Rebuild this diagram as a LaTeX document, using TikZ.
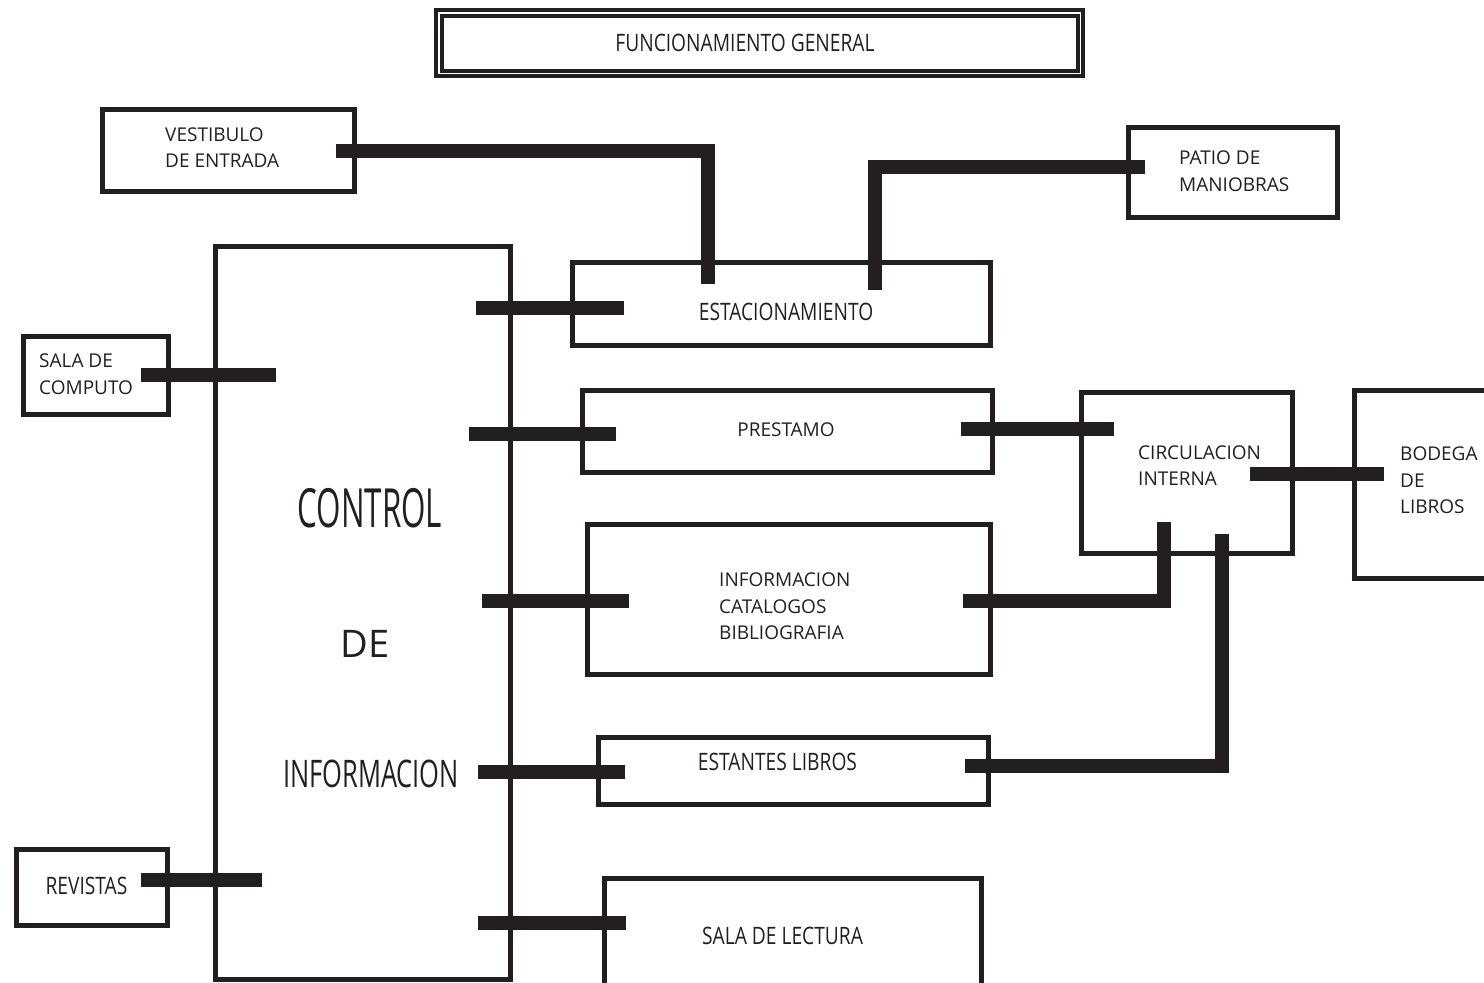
\documentclass[tikz,border=0pt]{standalone}
\usepackage{fontspec}
\setmainfont{Open Sans}
\usepackage{graphicx}
\usetikzlibrary{positioning}

\definecolor{ink}{HTML}{231F20}

% narrow lettering used for some of the labels
\newcommand{\squeeze}[2]{\scalebox{#1}[1]{#2}}

\begin{document}
\begin{tikzpicture}[x=1pt, y=-1pt, color=ink,
                    box/.style={draw, rectangle, line width=5pt, inner sep=0pt, outer sep=0pt},
                    lbl/.style={inner sep=0pt, align=left, font=\fontsize{19}{26.5}\selectfont},
                    cond/.style={inner sep=0pt, font=\fontsize{24}{26}\selectfont},
                    big/.style={inner sep=0pt, font=\fontsize{38}{40}\selectfont},
                    bar/.style={line width=14pt, line join=miter}]

\useasboundingbox (0,0) rectangle (1484,983);

% title
\node [draw, line width=4pt, double, double distance=1.5pt, inner sep=0pt, outer sep=0pt,
       minimum width=641.5pt, minimum height=60.5pt] (titulo) at (759.5,43) {};
\node [cond] (titulo-t) at (745,43) {\squeeze{0.8}{FUNCIONAMIENTO GENERAL}};

% boxes
\node [box, minimum width=252pt, minimum height=82pt] (vest) at (228,150) {};
\node [box, minimum width=209pt, minimum height=90pt] (patio) at (1232.5,172) {};
\node [box, minimum width=295pt, minimum height=733pt] (ctrl) at (363,612.5) {};
\node [box, minimum width=418pt, minimum height=83pt] (est) at (781,303.5) {};
\node [box, minimum width=145pt, minimum height=78pt] (comp) at (95.5,375) {};
\node [box, minimum width=410pt, minimum height=82pt] (prest) at (787,431) {};
\node [box, minimum width=211pt, minimum height=161pt] (circ) at (1186.5,472.5) {};
\node [box, minimum width=170pt, minimum height=188pt] (bodega) at (1439,484) {};
\node [box, minimum width=403pt, minimum height=150pt] (info) at (788.5,599) {};
\node [box, minimum width=390pt, minimum height=67pt] (estantes) at (793,770.5) {};
\node [box, minimum width=151pt, minimum height=76pt] (rev) at (91.5,887) {};
\node [box, minimum width=377pt, minimum height=108pt] (lectura) at (792.5,932) {};

% labels
\node [lbl, anchor=west] (vest-t) at (165,147.5) {VESTIBULO\\DE ENTRADA};
\node [lbl, anchor=west] (patio-t) at (1179,171) {PATIO DE\\MANIOBRAS};
\node [cond] (est-t) at (786,312) {\squeeze{0.8}{ESTACIONAMIENTO}};
\node [lbl, anchor=west] (comp-t) at (39,374) {SALA DE\\COMPUTO};
\node [lbl] (prest-t) at (786,430) {PRESTAMO};
\node [lbl, anchor=west] (circ-t) at (1138,465.5) {CIRCULACION\\INTERNA};
\node [lbl, anchor=west] (bodega-t) at (1400,480.5) {BODEGA\\DE\\LIBROS};
\node [lbl, anchor=west] (info-t) at (719,606.5) {INFORMACION\\CATALOGOS\\BIBLIOGRAFIA};
\node [cond] (estantes-t) at (777.5,762) {\squeeze{0.8}{ESTANTES LIBROS}};
\node [cond] (rev-t) at (86.5,886) {\squeeze{0.8}{REVISTAS}};
\node [cond] (lectura-t) at (782.5,936) {\squeeze{0.8}{SALA DE LECTURA}};

\node [big, font=\fontsize{54}{56}\selectfont] (ctrl-a) at (370,508) {\squeeze{0.58}{CONTROL}};
\node [big] (ctrl-b) at (365,644) {DE};
\node [big] (ctrl-c) at (371,774) {\squeeze{0.67}{INFORMACION}};

% links
\draw [bar] ([shift={(-18,1)}]vest.east) -| ([shift={(-73,22)}]est.north);
\draw [bar] ([shift={(17,-5)}]patio.west) -| ([shift={(94,28)}]est.north);
\draw [bar] ([shift={(-34.5,4.5)}]ctrl.east |- est.west) -- ([shift={(52,4.5)}]est.west);
\draw [bar] ([shift={(-27,-0.5)}]comp.east) -- ([shift={(60.5,-0.5)}]ctrl.west |- comp.east);
\draw [bar] ([shift={(-41.5,3)}]ctrl.east |- prest.west) -- ([shift={(34,3)}]prest.west);
\draw [bar] ([shift={(-31,-2)}]prest.east) -- ([shift={(33,-2)}]circ.west |- prest.east);
\draw [bar] ([shift={(-42,1.5)}]circ.east) -- ([shift={(30,1.5)}]bodega.west |- circ.east);
\draw [bar] ([shift={(-28.5,2)}]ctrl.east |- info.west) -- ([shift={(42,2)}]info.west);
\draw [bar] ([shift={(-27,2)}]info.east) -| ([shift={(-22.5,-31)}]circ.south);
\draw [bar] ([shift={(-32.5,1.5)}]ctrl.east |- estantes.west) -- ([shift={(27,1.5)}]estantes.west);
\draw [bar] ([shift={(-23,-4.5)}]estantes.east) -| ([shift={(35.5,-19)}]circ.south);
\draw [bar] ([shift={(-26,-7)}]rev.east) -- ([shift={(46.5,-7)}]ctrl.west |- rev.east);
\draw [bar] ([shift={(-32.5,-9.5)}]ctrl.east |- lectura.west) -- ([shift={(22,-9.5)}]lectura.west);
\end{tikzpicture}
\end{document}
